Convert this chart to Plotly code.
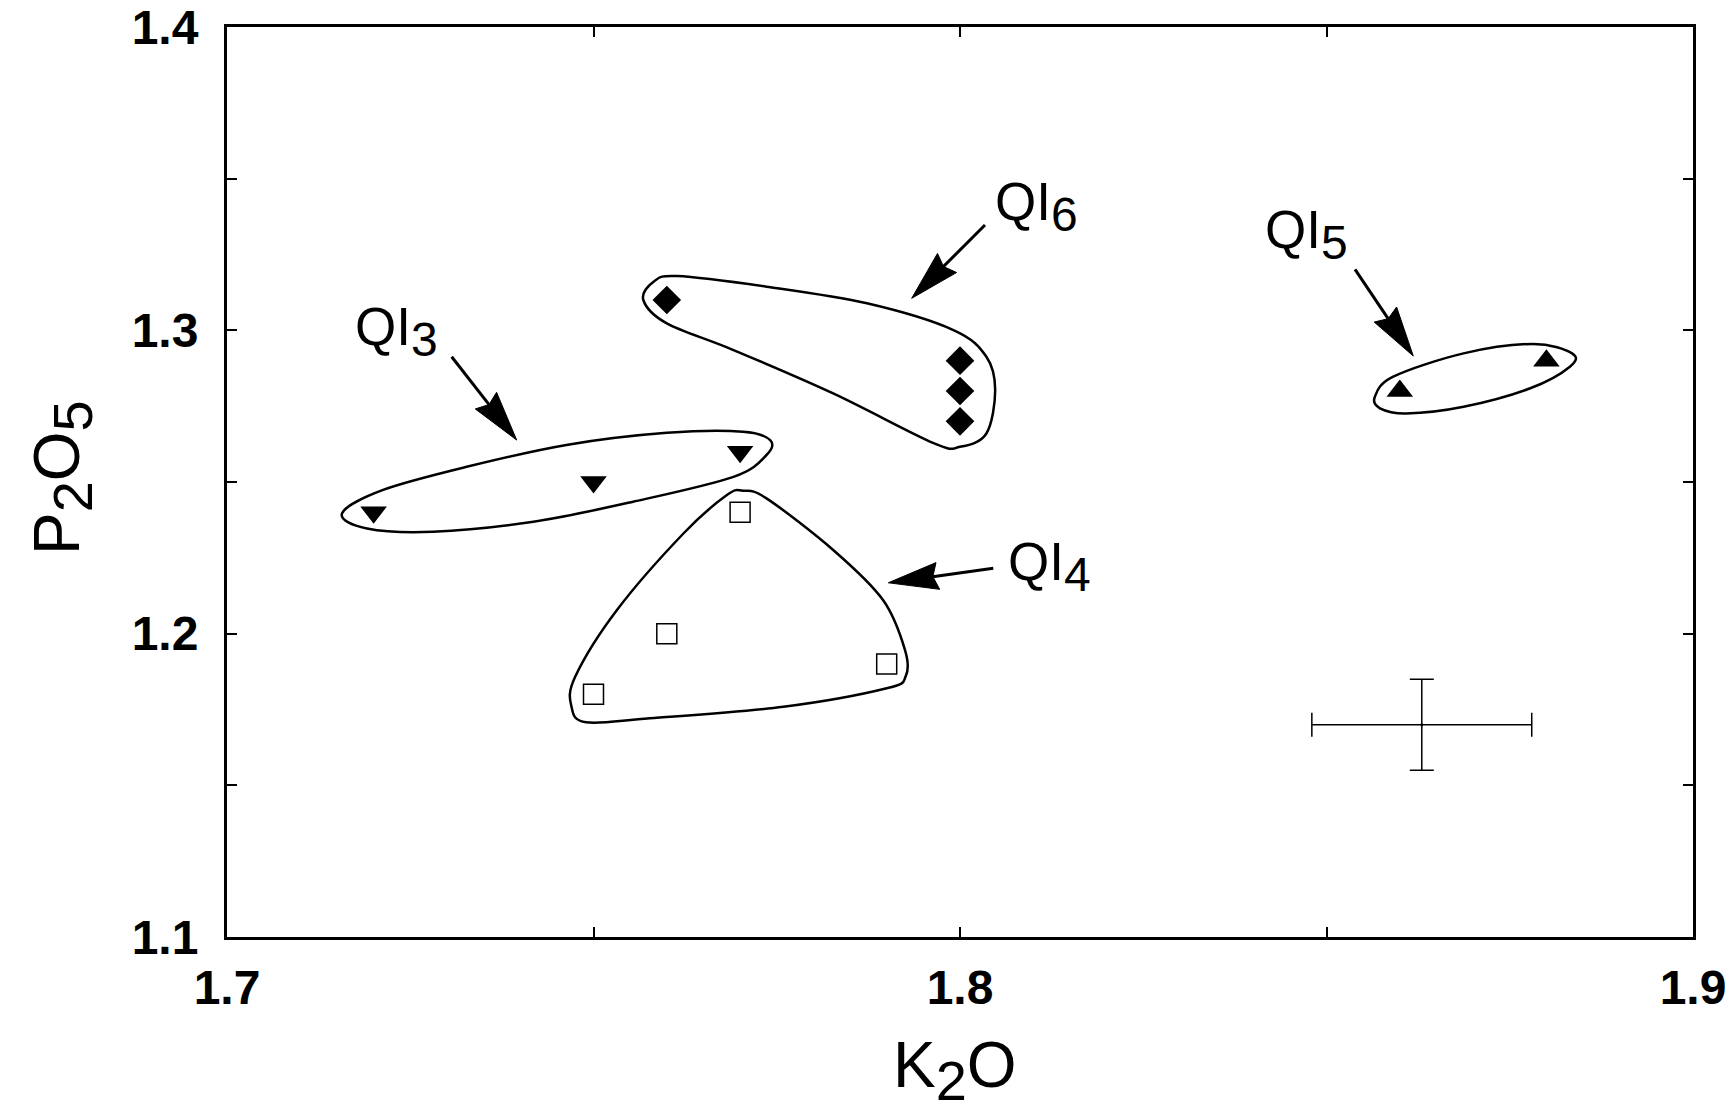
import math
import plotly.graph_objects as go

# ---------------- data ----------------
qi3_k2o = [1.72, 1.75, 1.77]
qi3_p2o5 = [1.24, 1.25, 1.26]
qi4_k2o = [1.75, 1.76, 1.77, 1.79]
qi4_p2o5 = [1.18, 1.20, 1.24, 1.19]
qi5_k2o = [1.86, 1.88]
qi5_p2o5 = [1.28, 1.29]
qi6_k2o = [1.76, 1.80, 1.80, 1.80]
qi6_p2o5 = [1.31, 1.29, 1.28, 1.27]

err_k2o = [1.863]
err_p2o5 = [1.17]
err_k2o_half = [0.015]
err_p2o5_half = [0.015]

x_tick_vals = [1.7, 1.8, 1.9]
x_tick_text = ["1.7", "1.8", "1.9"]
x_minor_vals = [1.75, 1.85]
y_tick_vals = [1.1, 1.2, 1.3, 1.4]
y_tick_text = ["1.1", "1.2", "1.3", "1.4"]
y_minor_vals = [1.15, 1.25, 1.35]

group_labels = ["3", "4", "5", "6"]

# hand-drawn group outlines (data units)
outline_qi3_x = [1.7157, 1.7191, 1.7281, 1.7418, 1.7554, 1.7691, 1.7736, 1.7741, 1.7704, 1.7600, 1.7463, 1.7327, 1.7213]
outline_qi3_y = [1.2397, 1.2347, 1.2336, 1.2369, 1.2435, 1.2517, 1.2589, 1.2638, 1.2666, 1.2662, 1.2622, 1.2550, 1.2474]
outline_qi4_x = [1.7704, 1.7736, 1.7827, 1.7895, 1.7925, 1.7926, 1.7900, 1.7759, 1.7577, 1.7490, 1.7470, 1.7475, 1.7532, 1.7623, 1.7682]
outline_qi4_y = [1.2471, 1.2446, 1.2276, 1.2111, 1.1946, 1.1860, 1.1820, 1.1759, 1.1721, 1.1708, 1.1759, 1.1858, 1.2078, 1.2331, 1.2457]
outline_qi5_x = [1.8566, 1.8591, 1.8687, 1.8782, 1.8835, 1.8832, 1.8778, 1.8687, 1.8609, 1.8573]
outline_qi5_y = [1.2781, 1.2847, 1.2924, 1.2955, 1.2924, 1.2880, 1.2809, 1.2748, 1.2726, 1.2743]
outline_qi6_x = [1.7568, 1.7582, 1.7614, 1.7736, 1.7873, 1.7991, 1.8036, 1.8048, 1.8036, 1.8000, 1.7964, 1.7827, 1.7691, 1.7600]
outline_qi6_y = [1.3100, 1.3160, 1.3179, 1.3144, 1.3089, 1.3001, 1.2913, 1.2803, 1.2660, 1.2616, 1.2628, 1.2792, 1.2935, 1.3023]

# arrows and labels (order: QI3, QI4, QI5, QI6)
arrow_tail_x = [1.73065, 1.80454, 1.85389, 1.80341]
arrow_tail_y = [1.2913, 1.22153, 1.32011, 1.33472]
arrow_tip_x = [1.73952, 1.79022, 1.86184, 1.79341]
arrow_tip_y = [1.26383, 1.21678, 1.29153, 1.31055]
label_x = [1.7172, 1.8063, 1.8413, 1.8045]
label_y = [1.2995, 1.2222, 1.3316, 1.3408]

# ---------------- layout geometry ----------------
W, H = 1725, 1111
ML, MR, MT, MB = 227, 32, 27, 174
X_RANGE = [1.7, 1.9]
Y_RANGE = [1.1, 1.4]
KX = (W - ML - MR) / (X_RANGE[1] - X_RANGE[0])
KY = (H - MT - MB) / (Y_RANGE[1] - Y_RANGE[0])

FONT = "Liberation Sans, Arial, Helvetica, sans-serif"


def to_px(x, y):
    return ((x - X_RANGE[0]) * KX, (Y_RANGE[1] - y) * KY)


def to_data(px, py):
    return (X_RANGE[0] + px / KX, Y_RANGE[1] - py / KY)


def fmt(p):
    x, y = to_data(*p)
    return f"{x:.6f},{y:.6f}"


def smooth_closed_path(xs, ys):
    pts = [to_px(x, y) for x, y in zip(xs, ys)]
    n = len(pts)
    d = "M " + fmt(pts[0])
    for i in range(n):
        pm = pts[i - 1]
        p1 = pts[i]
        p2 = pts[(i + 1) % n]
        p3 = pts[(i + 2) % n]
        c1 = (p1[0] + (p2[0] - pm[0]) / 6.0, p1[1] + (p2[1] - pm[1]) / 6.0)
        c2 = (p2[0] - (p3[0] - p1[0]) / 6.0, p2[1] - (p3[1] - p1[1]) / 6.0)
        d += " C " + fmt(c1) + " " + fmt(c2) + " " + fmt(p2)
    return d + " Z"


fig = go.Figure()

# group markers
fig.add_trace(go.Scatter(x=qi3_k2o, y=qi3_p2o5, mode="markers", name="QI3",
                         marker=dict(symbol="triangle-down", size=23, color="black")))
fig.add_trace(go.Scatter(x=qi4_k2o, y=qi4_p2o5, mode="markers", name="QI4",
                         marker=dict(symbol="square-open", size=20, color="black",
                                     line=dict(width=1.5, color="black"))))
fig.add_trace(go.Scatter(x=qi5_k2o, y=qi5_p2o5, mode="markers", name="QI5",
                         marker=dict(symbol="triangle-up", size=23, color="black")))
fig.add_trace(go.Scatter(x=qi6_k2o, y=qi6_p2o5, mode="markers", name="QI6",
                         marker=dict(symbol="diamond", size=22, color="black")))

# analytical error cross
fig.add_trace(go.Scatter(
    x=err_k2o, y=err_p2o5, mode="markers",
    marker=dict(size=3, color="black"),
    error_x=dict(type="data", array=err_k2o_half, color="black", thickness=1.5, width=12),
    error_y=dict(type="data", array=err_p2o5_half, color="black", thickness=1.5, width=12),
))

shapes = []
for ox, oy in [(outline_qi3_x, outline_qi3_y), (outline_qi4_x, outline_qi4_y),
               (outline_qi5_x, outline_qi5_y), (outline_qi6_x, outline_qi6_y)]:
    shapes.append(dict(type="path", xref="x", yref="y", path=smooth_closed_path(ox, oy),
                       line=dict(color="black", width=2.5), layer="below"))

HEAD_LEN, HEAD_W, NOTCH = 50.0, 27.0, 5.0
for sx, sy, tx, ty in zip(arrow_tail_x, arrow_tail_y, arrow_tip_x, arrow_tip_y):
    S = to_px(sx, sy)
    T = to_px(tx, ty)
    L = math.hypot(T[0] - S[0], T[1] - S[1])
    dx, dy = (T[0] - S[0]) / L, (T[1] - S[1]) / L
    nx, ny = -dy, dx
    B = (T[0] - HEAD_LEN * dx, T[1] - HEAD_LEN * dy)
    c1 = (B[0] + nx * HEAD_W / 2, B[1] + ny * HEAD_W / 2)
    c2 = (B[0] + NOTCH * dx, B[1] + NOTCH * dy)
    c3 = (B[0] - nx * HEAD_W / 2, B[1] - ny * HEAD_W / 2)
    head = "M " + fmt(T) + " L " + fmt(c1) + " L " + fmt(c2) + " L " + fmt(c3) + " Z"
    shapes.append(dict(type="path", xref="x", yref="y", path=head,
                       fillcolor="black", line=dict(color="black", width=1)))
    e = to_data(B[0] + (NOTCH + 2) * dx, B[1] + (NOTCH + 2) * dy)
    shapes.append(dict(type="line", xref="x", yref="y", x0=sx, y0=sy, x1=e[0], y1=e[1],
                       line=dict(color="black", width=3)))

annotations = []
for lx, ly, g in zip(label_x, label_y, group_labels):
    annotations.append(dict(
        x=lx, y=ly, xref="x", yref="y", xanchor="left", yanchor="middle",
        text="QI<sub><span style='font-size:48px'>" + g + "</span></sub>",
        showarrow=False, font=dict(family=FONT, size=53, color="black")))

annotations.append(dict(
    x=(955 - ML) / (W - ML - MR), y=-(1070 - (H - MB)) / (H - MT - MB),
    xref="paper", yref="paper", xanchor="center", yanchor="middle",
    text="K<sub><span style='font-size:56px'>2</span></sub>O", showarrow=False,
    font=dict(family=FONT, size=64, color="black")))
annotations.append(dict(
    x=-(ML - 62) / (W - ML - MR), y=((H - MB) - 478) / (H - MT - MB),
    xref="paper", yref="paper", xanchor="center", yanchor="middle", textangle=-90,
    text="P<sub><span style='font-size:56px'>2</span></sub>O<sub><span style='font-size:56px'>5</span></sub>",
    showarrow=False, font=dict(family=FONT, size=64, color="black")))

axis_common = dict(
    showgrid=False, zeroline=False, showline=True, linecolor="black", linewidth=3,
    mirror="ticks", ticks="inside", ticklen=10, tickwidth=1.5, tickcolor="black",
    ticklabeloverflow="allow", automargin=False,
    tickfont=dict(family=FONT, size=48, color="black", weight="bold"),
)

fig.update_layout(
    width=W, height=H, autosize=False,
    margin=dict(l=ML, r=MR, t=MT, b=MB, pad=0, autoexpand=False),
    paper_bgcolor="white", plot_bgcolor="white",
    showlegend=False,
    font=dict(family=FONT, color="black"),
    xaxis=dict(range=X_RANGE, tickmode="array", tickvals=x_tick_vals, ticktext=x_tick_text,
               minor=dict(tickmode="array", tickvals=x_minor_vals, ticks="inside", ticklen=10,
                          tickwidth=1.5, tickcolor="black", showgrid=False),
               ticklabelstandoff=6, **axis_common),
    yaxis=dict(range=Y_RANGE, tickmode="array", tickvals=y_tick_vals, ticktext=y_tick_text,
               minor=dict(tickmode="array", tickvals=y_minor_vals, ticks="inside", ticklen=10,
                          tickwidth=1.5, tickcolor="black", showgrid=False),
               ticklabelstandoff=16, **axis_common),
    shapes=shapes,
    annotations=annotations,
)

fig.write_html("out.html")
